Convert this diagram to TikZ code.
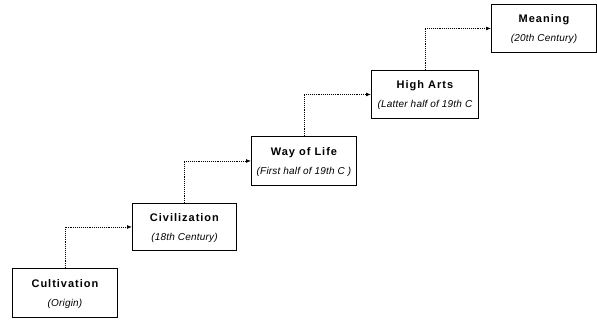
\documentclass[tikz,border=0pt]{standalone}
\usepackage{fontspec}
\setmainfont{Liberation Sans}
\newfontfamily\titlefont[LetterSpace=9]{Liberation Sans}
\newfontfamily\subfont[LetterSpace=2]{Liberation Sans}
\newcommand{\stagetitle}[1]{{\titlefont\bfseries\fontsize{11}{12}\selectfont #1}}
\newcommand{\stagesub}[1]{{\subfont\itshape\fontsize{10}{12}\selectfont #1}}
\usetikzlibrary{arrows.meta}
\begin{document}
\begin{tikzpicture}[x=1pt,y=-1pt,
  stagebox/.style={draw=black,line width=0.9pt,align=center,inner sep=0pt,text depth=0pt},
  link/.style={densely dotted,line width=0.9pt,-{Latex[length=5pt,width=4pt]}}]
\useasboundingbox (0,0) rectangle (597,322);
\node[stagebox,anchor=north west,minimum width=105pt,minimum height=49pt] (cult) at (12,268) {\stagetitle{Cultivation}\\[7pt]\stagesub{(Origin)}};
\node[stagebox,anchor=north west,minimum width=104pt,minimum height=47pt] (civ) at (132,203) {\stagetitle{Civilization}\\[7pt]\stagesub{(18th Century)}};
\node[stagebox,anchor=north west,minimum width=105pt,minimum height=49pt] (way) at (251,136) {\stagetitle{Way of Life}\\[7pt]\stagesub{(First half of 19th C )}};
\node[stagebox,anchor=north west,minimum width=107pt,minimum height=48pt] (high) at (371,70) {\stagetitle{High Arts}\\[7pt]\stagesub{(Latter half of 19th C}};
\node[stagebox,anchor=north west,minimum width=105pt,minimum height=48pt] (mean) at (491,4) {\stagetitle{Meaning}\\[7pt]\stagesub{(20th Century)}};
\draw[link] (cult.north) |- (civ.west);
\draw[link] (civ.north) |- (way.west);
\draw[link] (way.north) |- (high.west);
\draw[link] (high.north) |- (mean.west);
\end{tikzpicture}
\end{document}
